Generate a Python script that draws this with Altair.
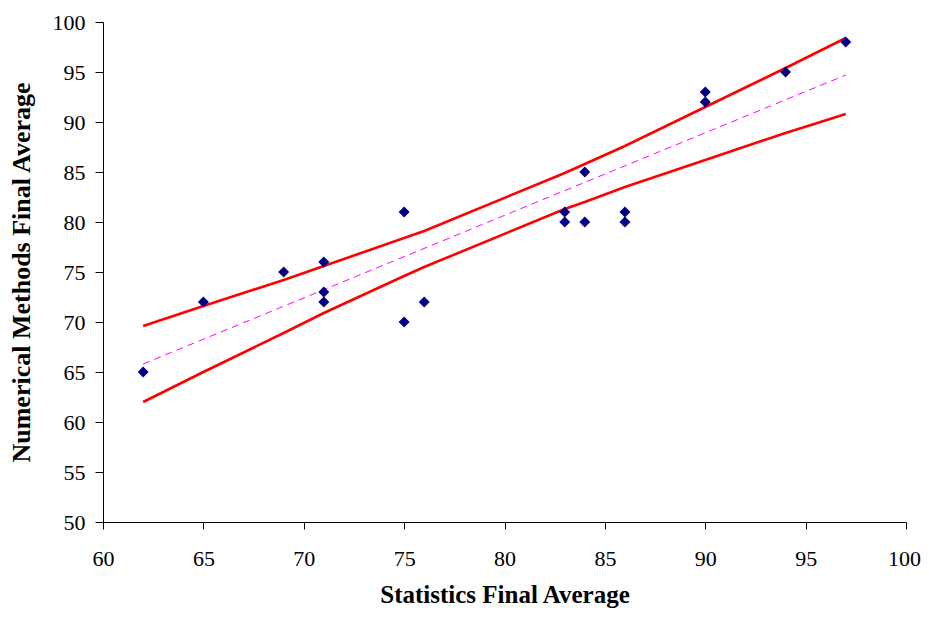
import altair as alt
import pandas as pd

# Scatter data
stats = [62, 65, 69, 71, 71, 71, 75, 75, 76, 83, 83, 84, 84, 86, 86, 90, 90, 94, 97]
numer = [65, 72, 75, 76, 73, 72, 81, 70, 72, 81, 80, 85, 80, 81, 80, 93, 92, 95, 98]

# Confidence band
band_x = [62, 65, 69, 71, 75, 76, 83, 84, 86, 90, 94, 97]
upper = [69.6, 71.6, 74.2, 75.6, 78.4, 79.1, 84.9, 85.8, 87.6, 91.5, 95.4, 98.4]
lower = [62.0, 65.0, 68.9, 70.9, 74.6, 75.5, 81.3, 82.0, 83.5, 86.2, 88.9, 90.8]

# Fitted line
fit_x = [62, 97]
fit_y = [65.8, 94.7]

x_ticks = [60, 65, 70, 75, 80, 85, 90, 95, 100]
y_ticks = [50, 55, 60, 65, 70, 75, 80, 85, 90, 95, 100]

pts = pd.DataFrame({"x": stats, "y": numer})
band = pd.concat([
    pd.DataFrame({"x": band_x, "y": upper, "b": "upper"}),
    pd.DataFrame({"x": band_x, "y": lower, "b": "lower"}),
])
fit = pd.DataFrame({"x": fit_x, "y": fit_y})

FONT = "Liberation Serif, Times New Roman, serif"

xs = alt.Scale(domain=[60, 100], nice=False, zero=False)
ys = alt.Scale(domain=[50, 100], nice=False, zero=False)

xax = alt.Axis(values=x_ticks, title="Statistics Final Average", grid=False,
               labelFont=FONT, labelFontSize=22, labelColor="black",
               labelOffset={"condition": {"test": "datum.value === 100", "value": -2}, "value": 0},
               titleFont=FONT, titleFontSize=25, titleFontWeight="bold", titleColor="black",
               domainColor="black", tickColor="black", tickSize=7, labelPadding=19,
               titlePadding=13, labelFlush=False)
yax = alt.Axis(values=y_ticks, title="Numerical Methods Final Average", grid=False,
               labelFont=FONT, labelFontSize=22, labelColor="black",
               titleFont=FONT, titleFontSize=26, titleFontWeight="bold", titleColor="black",
               domainColor="black", tickColor="black", tickSize=8, labelPadding=10,
               titlePadding=18, labelFlush=False)

lines = alt.Chart(band).mark_line(color="#FF0000", strokeWidth=2.6).encode(
    x=alt.X("x:Q", scale=xs, axis=xax),
    y=alt.Y("y:Q", scale=ys, axis=yax),
    detail="b:N",
)

dashed = alt.Chart(fit).mark_line(color="#FF00FF", strokeWidth=1, strokeDash=[7, 5]).encode(
    x=alt.X("x:Q", scale=xs),
    y=alt.Y("y:Q", scale=ys),
)

points = alt.Chart(pts).mark_point(shape="diamond", filled=True, color="#000080",
                                   size=120, opacity=1).encode(
    x=alt.X("x:Q", scale=xs),
    y=alt.Y("y:Q", scale=ys),
)

chart = alt.layer(lines, dashed, points).properties(
    width=803, height=500,
    autosize=alt.AutoSizeParams(type="none"),
    padding={"left": 95, "top": 14, "right": 15, "bottom": 87},
    background="white",
).configure_view(stroke=None)

chart.save("out.html", embed_options={"renderer": "svg", "actions": False})
